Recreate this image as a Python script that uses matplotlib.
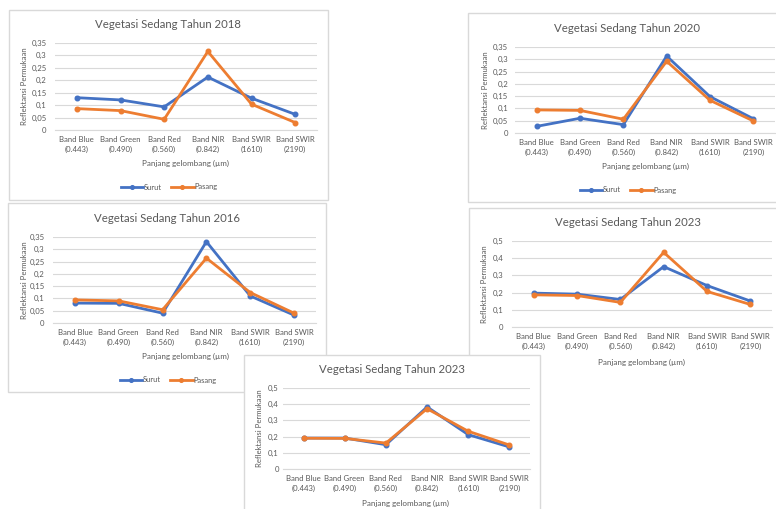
import matplotlib
matplotlib.use("Agg")
import matplotlib.pyplot as plt
import numpy as np
from matplotlib.patches import Rectangle

plt.rcParams['font.family'] = ['Lato', 'DejaVu Sans']

W, H = 776, 509

categories = ["Band Blue\n(0.443)", "Band Green\n(0.490)", "Band Red\n(0.560)",
              "Band NIR\n(0.842)", "Band SWIR\n(1610)", "Band SWIR\n(2190)"]
series_names = ["Surut", "Pasang"]

surut_2018 = [0.130, 0.121, 0.093, 0.213, 0.128, 0.063]
pasang_2018 = [0.086, 0.078, 0.043, 0.316, 0.104, 0.030]

surut_2020 = [0.027, 0.060, 0.034, 0.313, 0.148, 0.058]
pasang_2020 = [0.094, 0.092, 0.056, 0.292, 0.133, 0.049]

surut_2016 = [0.081, 0.080, 0.040, 0.331, 0.110, 0.032]
pasang_2016 = [0.094, 0.090, 0.054, 0.264, 0.124, 0.040]

surut_2023a = [0.197, 0.191, 0.160, 0.351, 0.241, 0.151]
pasang_2023a = [0.187, 0.183, 0.143, 0.434, 0.207, 0.131]

surut_2023b = [0.191, 0.191, 0.150, 0.383, 0.212, 0.136]
pasang_2023b = [0.190, 0.189, 0.160, 0.372, 0.233, 0.148]

titles = ["Vegetasi Sedang Tahun 2018", "Vegetasi Sedang Tahun 2020",
          "Vegetasi Sedang Tahun 2016", "Vegetasi Sedang Tahun 2023",
          "Vegetasi Sedang Tahun 2023"]
xlabel_text = "Panjang gelombang (µm)"
ylabel_text = "Reflektansi Permukaan"

BLUE = "#4472C4"
ORANGE = "#ED7D31"
GRID = "#D9D9D9"
TXT = "#595959"
BORDER = "#D9D9D9"

charts = [
    dict(title=titles[0], s=surut_2018, p=pasang_2018, ymax=0.35, step=0.05,
         box=(9, 10, 328, 200), plot=(55, 43, 317, 130), tpos=(168, 25),
         xl=(186, 163), yl=25, leg=(169, 187), ypad=6),
    dict(title=titles[1], s=surut_2020, p=pasang_2020, ymax=0.35, step=0.05,
         box=(468, 13, 800, 202), plot=(515, 47, 775, 133), tpos=(627, 28),
         xl=(645, 166), yl=485, leg=(628, 190), ypad=5),
    dict(title=titles[2], s=surut_2016, p=pasang_2016, ymax=0.35, step=0.05,
         box=(8, 203, 326, 392), plot=(53, 237, 316, 323), tpos=(167, 218),
         xl=(185, 356), yl=25, leg=(168, 380), ypad=6),
    dict(title=titles[3], s=surut_2023a, p=pasang_2023a, ymax=0.5, step=0.1,
         box=(469, 208, 800, 530), plot=(512, 241, 772, 327), tpos=(628, 223),
         xl=(642, 362), yl=485, leg=None, ypad=6),
    dict(title=titles[4], s=surut_2023b, p=pasang_2023b, ymax=0.5, step=0.1,
         box=(244, 355, 540, 530), plot=(283, 388, 530, 469), tpos=(392, 370),
         xl=(405, 503), yl=259, leg=None, ypad=3),
]


def rect(x0, y0, x1, y1):
    return [x0 / W, 1 - y1 / H, (x1 - x0) / W, (y1 - y0) / H]


def fmt(v):
    return f"{v:g}".replace('.', ',')


fig = plt.figure(figsize=(W / 100, H / 100), dpi=100)
fig.patch.set_facecolor("white")

z = 0
for c in charts:
    bx0, by0, bx1, by1 = c['box']
    bg = fig.add_axes(rect(bx0, by0, bx1, by1), zorder=z)
    bg.set_xlim(bx0, bx1)
    bg.set_ylim(by1, by0)
    bg.set_axis_off()
    bg.add_patch(Rectangle((bx0, by0), bx1 - bx0, by1 - by0, facecolor="white",
                           edgecolor=BORDER, lw=1.0, clip_on=False))
    bg.text(c['tpos'][0], c['tpos'][1], c['title'], ha='center', va='center',
            fontsize=8.2, color=TXT)
    bg.text(c['xl'][0], c['xl'][1], xlabel_text, ha='center', va='center',
            fontsize=5.8, color=TXT)
    px0, py0, px1, py1 = c['plot']
    bg.text(c['yl'], (py0 + py1) / 2, ylabel_text, ha='center', va='center',
            rotation=90, fontsize=5.6, color=TXT)

    ax = fig.add_axes(rect(px0, py0, px1, py1), zorder=z + 1)
    ax.patch.set_alpha(0)
    x = np.arange(len(categories))
    l1, = ax.plot(x, c['s'], color=BLUE, lw=2.0, marker='o', ms=3.3,
                  label=series_names[0], zorder=3, clip_on=False)
    l2, = ax.plot(x, c['p'], color=ORANGE, lw=2.0, marker='o', ms=3.3,
                  label=series_names[1], zorder=4, clip_on=False)
    ax.set_xlim(-0.5, len(categories) - 0.5)
    ax.set_ylim(0, c['ymax'])
    yt = np.round(np.arange(0, c['ymax'] + c['step'] / 2, c['step']), 3)
    ax.set_yticks(yt)
    ax.set_yticklabels([fmt(v) for v in yt])
    ax.set_xticks(x)
    ax.set_xticklabels(categories, linespacing=1.45)
    ax.tick_params(axis='both', length=0, labelsize=5.6, colors=TXT)
    ax.tick_params(axis='y', pad=c['ypad'])
    ax.tick_params(axis='x', pad=4.5)
    ax.grid(axis='y', color=GRID, lw=0.8)
    ax.set_axisbelow(True)
    for sp in ['top', 'right', 'left']:
        ax.spines[sp].set_visible(False)
    ax.spines['bottom'].set_color(GRID)
    ax.spines['bottom'].set_linewidth(0.8)
    if c['leg'] is not None:
        lx, ly = c['leg']
        ax.legend(handles=[l1, l2], ncol=2, frameon=False, fontsize=5.4,
                  loc='center', bbox_to_anchor=(lx / W, 1 - ly / H),
                  bbox_transform=fig.transFigure, handlelength=3.0,
                  numpoints=1, markerscale=0.8,
                  handletextpad=0.1, columnspacing=1.2, labelcolor=TXT)
    z += 2

fig.savefig("out.png", dpi=100, facecolor="white")
